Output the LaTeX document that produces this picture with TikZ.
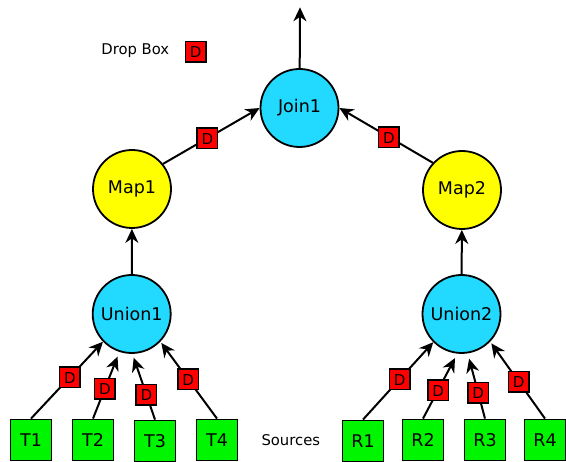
\documentclass[tikz,border=0pt]{standalone}
\usepackage{fontspec}
\setmainfont{DejaVu Sans}
\usetikzlibrary{arrows.meta}
\definecolor{cyanc}{RGB}{34,217,255}
\definecolor{yelc}{RGB}{255,255,0}
\definecolor{grnc}{RGB}{0,245,0}
\definecolor{redc}{RGB}{255,0,0}
\tikzset{
  circ/.style={circle, draw=black, line width=1.8pt, minimum size=78pt, inner sep=0pt, font=\fontsize{17.5}{17.5}\selectfont},
  srcbox/.style={rectangle, draw=black, line width=1.8pt, fill=grnc, minimum size=41pt, inner sep=0pt, font=\fontsize{17.5}{17.5}\selectfont},
  dbox/.style={rectangle, draw=black, line width=1.5pt, fill=redc, minimum size=20.5pt, inner sep=0pt, text height=12.5pt, text depth=0pt, font=\fontsize{15}{15}\selectfont},
  lbl/.style={font=\fontsize{14.8}{14.8}\selectfont, inner sep=0pt},
  arr/.style={line width=2pt, -{Stealth[length=14pt,width=13pt,inset=4.5pt]}}
}
\begin{document}
\begin{tikzpicture}[x=1pt,y=-1pt]
\useasboundingbox (0,0) rectangle (566,462);
% circles
\node[circ, fill=cyanc] (join) at (299.5,108) {Join1};
\node[circ, fill=yelc] (map1) at (132,189) {Map1};
\node[circ, fill=yelc] (map2) at (462,190) {Map2};
\node[circ, fill=cyanc] (union1) at (131.7,314) {Union1};
\node[circ, fill=cyanc] (union2) at (461.5,314) {Union2};
% sources
\node[srcbox] (t1) at (31,440) {T1};
\node[srcbox] (t2) at (93,440) {T2};
\node[srcbox] (t3) at (155,441) {T3};
\node[srcbox] (t4) at (217,440) {T4};
\node[srcbox] (r1) at (363,441) {R1};
\node[srcbox] (r2) at (423,440) {R2};
\node[srcbox] (r3) at (485,440) {R3};
\node[srcbox] (r4) at (545,440) {R4};
% labels
\node[lbl] (droplbl) at (135.3,50.8) {Drop Box};
\node[dbox] (dlegend) at (195.7,51.7) {D};
\node[lbl] (srclbl) at (290.8,440.3) {Sources};
\coordinate (out) at (300,7.3);
% edges
\draw[arr] (join) -- (out);
\draw[arr] (map1.39) -- node[dbox, pos=0.46] (dm1) {D} (join.west);
\draw[arr] (map2.137) -- node[dbox, pos=0.47] (dm2) {D} (join.east);
\draw[arr] (union1) -- (map1);
\draw[arr] (union2) -- (map2);
\draw[arr] (t1.north) -- node[dbox, pos=0.54] (dt1) {D} (union1.224);
\draw[arr, shorten >=5pt] (t2.north) -- node[dbox, pos=0.45] (dt2) {D} (union1.252);
\draw[arr, shorten >=4pt] (t3.north) -- node[dbox, pos=0.38] (dt3) {D} (union1.271);
\draw[arr, shorten >=1.5pt] (t4.north) -- node[dbox, pos=0.51] (dt4) {D} (union1.316);
\draw[arr] (r1.north) -- node[dbox, pos=0.52] (dr1) {D} (union2.225);
\draw[arr, shorten >=5pt] (r2.north) -- node[dbox, pos=0.44] (dr2) {D} (union2.264);
\draw[arr, shorten >=5.5pt] (r3.north) -- node[dbox, pos=0.40] (dr3) {D} (union2.279);
\draw[arr, shorten >=2pt] (r4.north) -- node[dbox, pos=0.48] (dr4) {D} (union2.316);
\end{tikzpicture}
\end{document}
